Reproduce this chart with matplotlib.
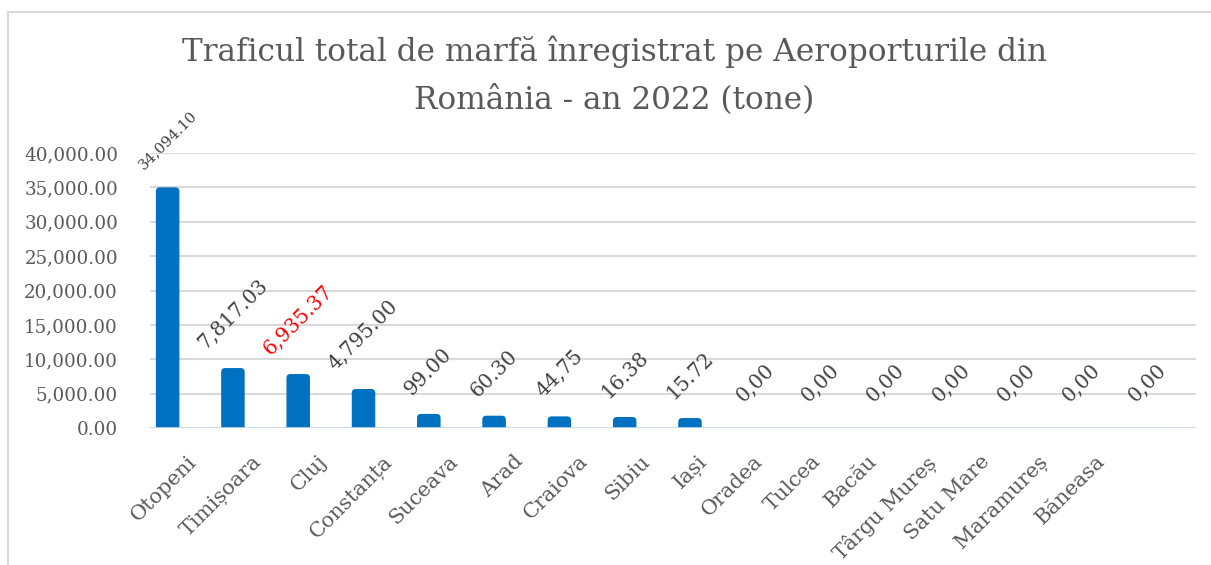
import matplotlib
matplotlib.use("Agg")
import matplotlib.pyplot as plt
from matplotlib.patches import FancyBboxPatch
from matplotlib.lines import Line2D
from matplotlib.transforms import ScaledTranslation

AIRPORTS = ["Otopeni", "Timișoara", "Cluj", "Constanța", "Suceava", "Arad",
            "Craiova", "Sibiu", "Iași", "Oradea", "Tulcea", "Bacău",
            "Târgu Mureș", "Satu Mare", "Maramureș", "Băneasa"]
# bar heights as drawn in the source chart (tone)
BAR_HEIGHTS = [35000, 8720, 7850, 5670, 2050, 1790, 1690, 1600, 1450,
               0, 0, 0, 0, 0, 0, 0]
# value labels exactly as printed above the bars
VALUE_LABELS = ["34,094.10", "7,817.03", "6,935.37", "4,795.00", "99.00",
                "60.30", "44,75", "16.38", "15.72", "0,00", "0,00", "0,00",
                "0,00", "0,00", "0,00", "0,00"]
HIGHLIGHT = "Cluj"
Y_TICKS = [0, 5000, 10000, 15000, 20000, 25000, 30000, 35000, 40000]

TITLE_1 = "Traficul total de marfă înregistrat pe Aeroporturile din"
TITLE_2 = "România - an 2022 (tone)"

W, H, DPI = 1211, 565, 100
BLUE = "#0070C0"
GREY_TXT = "#595959"
GRID = "#d9d9d9"
FONT = "DejaVu Serif"

# the label of the tall bar is set in a smaller font in the source
SMALL_LABEL_FOR = "Otopeni"

# horizontal nudges (px) of the rotated category labels, as placed in the source
TICK_NUDGE_PX = [19, 19, 19, 19, 19, 19, 19, 15, 7, -2, -10, -19, -26, -36, -44, -52]

fig = plt.figure(figsize=(W / DPI, H / DPI), dpi=DPI, facecolor="white")

# chart border (left and top edges visible in the source)
fig.add_artist(Line2D([8 / W, 8 / W], [0, 1 - 12 / H], transform=fig.transFigure,
                      color=GRID, lw=1.5))
fig.add_artist(Line2D([8 / W, 1], [1 - 12 / H, 1 - 12 / H], transform=fig.transFigure,
                      color=GRID, lw=1.5))

ax_l, ax_r, ax_t, ax_b = 150, 1196, 153, 428
ax = fig.add_axes([ax_l / W, 1 - ax_b / H, (ax_r - ax_l) / W, (ax_b - ax_t) / H])

x = list(range(len(AIRPORTS)))
xmin, xmax = -0.27, len(AIRPORTS) - 0.25
ax.set_xlim(xmin, xmax)
ax.set_ylim(0, 40000)

bars = ax.bar(x, BAR_HEIGHTS, width=0.36, color=BLUE)

# rounded tops: replace each bar by a rounded box, bottom corners hidden below 0
px_x = (xmax - xmin) / (ax_r - ax_l)
px_y = 40000 / (ax_b - ax_t)
radius = 4 * px_x
aspect = px_y / px_x
for b in bars:
    b.set_visible(False)
    if b.get_height() <= 0:
        continue
    drop = radius * aspect
    ax.add_patch(FancyBboxPatch(
        (b.get_x(), -drop), b.get_width(), b.get_height() + drop,
        boxstyle=f"round,pad=0,rounding_size={radius}",
        mutation_aspect=aspect, facecolor=BLUE, edgecolor="none", zorder=2))

ax.set_yticks(Y_TICKS, [f"{v:,.2f}" for v in Y_TICKS])
ax.yaxis.grid(True, color=GRID, lw=1.5)
ax.set_axisbelow(True)
ax.axhline(0, color="#c9dcef", lw=1.2, zorder=3)
for s in ax.spines.values():
    s.set_visible(False)
ax.tick_params(axis="y", length=0, pad=23, labelsize=13.2, labelcolor=GREY_TXT)
ax.tick_params(axis="x", length=0, pad=17, labelsize=15, labelcolor=GREY_TXT)
for lab in ax.get_yticklabels():
    lab.set_fontfamily(FONT)

ax.set_xticks(x, AIRPORTS, rotation=45, ha="right", va="top",
              rotation_mode="anchor", fontfamily=FONT)
for lab, dx in zip(ax.get_xticklabels(), TICK_NUDGE_PX):
    lab.set_transform(lab.get_transform() + ScaledTranslation(dx / DPI, 0, fig.dpi_scale_trans))

for xi, h, txt, name in zip(x, BAR_HEIGHTS, VALUE_LABELS, AIRPORTS):
    off = 11 if h > 0 else 16
    ax.annotate(txt, (xi, h), xytext=(0, off), textcoords="offset points",
                rotation=45, ha="center", va="bottom",
                fontsize=10.7 if name == SMALL_LABEL_FOR else 14.5,
                fontfamily=FONT, color="red" if name == HIGHLIGHT else "#404040",
                annotation_clip=False)

fig.text(614 / W, 1 - 61 / H, TITLE_1, ha="center", va="baseline",
         fontsize=22.4, color=GREY_TXT, fontfamily=FONT)
fig.text(614 / W, 1 - 108 / H, TITLE_2, ha="center", va="baseline",
         fontsize=22.4, color=GREY_TXT, fontfamily=FONT)

fig.savefig("out.png", dpi=DPI, facecolor="white")
